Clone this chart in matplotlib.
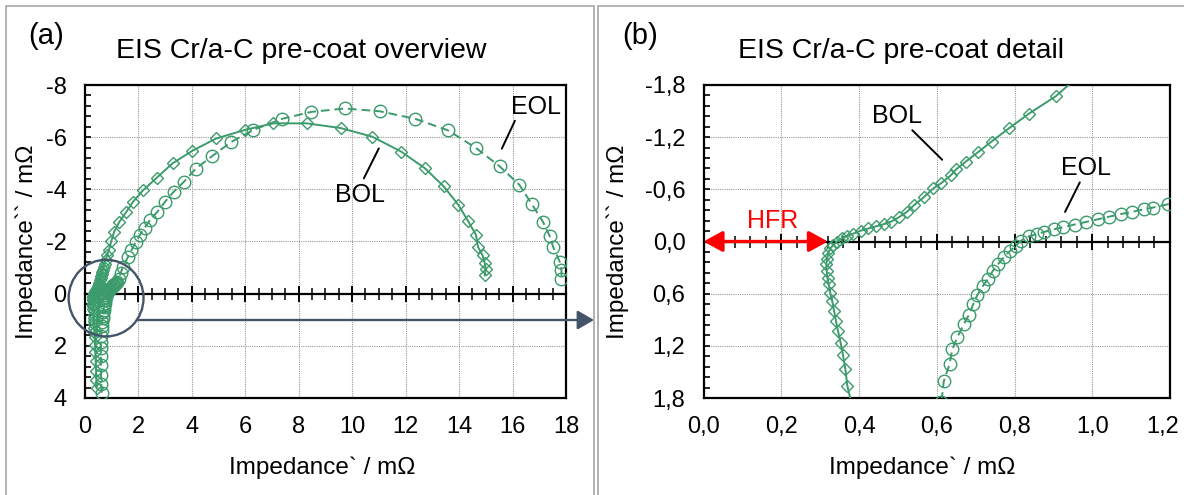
# EIS Nyquist plots of the Cr/a-C pre-coat, BOL vs EOL (overview + detail)

import matplotlib
matplotlib.use('Agg')
import matplotlib.pyplot as plt
from matplotlib.ticker import MultipleLocator, FuncFormatter
from matplotlib.patches import Ellipse, FancyArrowPatch
from matplotlib.transforms import ScaledTranslation

plt.rcParams['font.family'] = ['Liberation Sans', 'DejaVu Sans']

# impedance values in mOhm, imaginary part as plotted (inductive > 0)
bol_re = [0.45, 0.44, 0.425, 0.41, 0.395, 0.385,
          0.370, 0.365, 0.359, 0.353, 0.346, 0.341, 0.336, 0.331, 0.326, 0.322,
          0.319, 0.317, 0.316, 0.318, 0.321, 0.326, 0.334, 0.344, 0.356, 0.370,
          0.385, 0.405, 0.424, 0.444, 0.464, 0.483, 0.503, 0.523, 0.542, 0.567,
          0.591, 0.611, 0.636, 0.650, 0.675, 0.707, 0.741, 0.785, 0.837, 0.906,
          0.99, 1.10, 1.30, 1.56, 1.81, 2.19, 2.70, 3.29, 4.03, 4.92, 6.00, 7.06,
          8.30, 9.57, 10.75, 11.83, 12.72, 13.43, 13.97, 14.34, 14.63, 14.71,
          14.88, 14.96, 15.0, 14.96]
bol_im = [3.60, 3.30, 2.95, 2.60, 2.25, 1.95,
          1.66, 1.47, 1.31, 1.17, 1.03, 0.92, 0.80, 0.68, 0.59, 0.49,
          0.42, 0.34, 0.26, 0.20, 0.13, 0.08, 0.04, 0.00, -0.035, -0.065,
          -0.09, -0.125, -0.15, -0.175, -0.20, -0.23, -0.28, -0.34, -0.42, -0.51,
          -0.61, -0.67, -0.76, -0.83, -0.92, -1.03, -1.15, -1.30, -1.47, -1.67,
          -2.00, -2.37, -2.76, -3.14, -3.53, -3.97, -4.45, -5.00, -5.48, -5.95, -6.28, -6.53,
          -6.53, -6.35, -6.02, -5.45, -4.81, -4.11, -3.41, -2.78, -2.26, -1.79,
          -1.47, -1.17, -0.96, -0.70]

eol_re = [0.63, 0.62, 0.61, 0.605, 0.605, 0.607, 0.612,
          0.618, 0.633, 0.640, 0.653, 0.670, 0.683, 0.694, 0.704, 0.719, 0.732,
          0.744, 0.758, 0.773, 0.788, 0.803, 0.817, 0.837, 0.857, 0.876, 0.901,
          0.925, 0.955, 0.984, 1.014, 1.043, 1.073, 1.102, 1.132, 1.156, 1.196,
          1.27, 1.35, 1.43, 1.62, 1.75, 1.91, 2.06, 2.25, 2.44, 2.72, 3.01, 3.33,
          3.71, 4.15, 4.76, 5.47, 6.31, 7.37, 8.48, 9.73, 11.05, 12.37, 13.59,
          14.63, 15.52, 16.25, 16.73, 17.14, 17.39, 17.52, 17.77, 17.83, 17.83]
eol_im = [3.80, 3.45, 3.10, 2.75, 2.40, 2.10, 1.85,
          1.61, 1.41, 1.24, 1.10, 0.95, 0.84, 0.72, 0.62, 0.51, 0.43,
          0.34, 0.26, 0.18, 0.11, 0.05, -0.01, -0.06, -0.085, -0.11, -0.14,
          -0.165, -0.195, -0.225, -0.255, -0.285, -0.315, -0.34, -0.37, -0.39, -0.43,
          -0.58, -0.80, -1.03, -1.41, -1.67, -1.99, -2.24, -2.53, -2.82, -3.14, -3.53, -3.91,
          -4.29, -4.79, -5.27, -5.81, -6.28, -6.70, -6.97, -7.10, -6.99, -6.70, -6.26,
          -5.59, -4.88, -4.18, -3.42, -2.75, -2.21, -1.79, -1.21, -0.89, -0.57]

hfr = 0.32

green = '#3b9b6b'
slate = '#44546a'
W, H = 1184, 495


def px_box(x0, y0, x1, y1):
    return [x0 / W, 1 - y1 / H, (x1 - x0) / W, (y1 - y0) / H]


def int_fmt(v, pos):
    return f"{round(v) + 0.0:g}"


def comma_fmt(v, pos):
    return f"{round(v, 1) + 0.0:.1f}".replace('.', ',')


def style_axes(ax, xlim, ylim, xmaj, xmin, ymaj, ymin, fmt):
    ax.set_xlim(*xlim)
    ax.set_ylim(*ylim)
    ax.xaxis.set_major_locator(MultipleLocator(xmaj))
    ax.yaxis.set_major_locator(MultipleLocator(ymaj))
    ax.yaxis.set_minor_locator(MultipleLocator(ymin))
    ax.xaxis.set_major_formatter(FuncFormatter(fmt))
    ax.yaxis.set_major_formatter(FuncFormatter(fmt))
    ax.grid(True, which='major', color='#999999', lw=0.8, ls=(0, (1, 1)))
    ax.set_axisbelow(True)
    for s in ax.spines.values():
        s.set_linewidth(1.6)
    ax.tick_params(axis='x', which='both', length=0, pad=13, labelsize=17)
    ax.tick_params(axis='y', which='both', direction='in', length=4.5,
                   width=1.2, pad=13, labelsize=17)
    # axis line through zero with crossing ticks
    sec = ax.secondary_xaxis(0, transform=ax.transData)
    sec.set_zorder(1)
    sec.xaxis.set_major_locator(MultipleLocator(xmaj))
    sec.xaxis.set_minor_locator(MultipleLocator(xmin))
    sec.tick_params(which='major', direction='inout', length=11, width=1.4,
                    labelbottom=False)
    sec.tick_params(which='minor', direction='inout', length=8, width=1.1)
    sec.spines['bottom'].set_linewidth(1.6)


fig = plt.figure(figsize=(W / 100, H / 100), dpi=100)

ax_a = fig.add_axes(px_box(84.7, 85, 566, 398))
ax_b = fig.add_axes(px_box(703.5, 85, 1170, 398))

style_axes(ax_a, (0, 18), (4, -8), 2, 0.5, 2, 0.4, int_fmt)
style_axes(ax_b, (0, 1.2), (1.8, -1.8), 0.2, 0.04, 0.6, 0.12, comma_fmt)

for ax in (ax_a, ax_b):
    ax.plot(bol_re, bol_im, color=green, lw=1.4, marker='D', ms=6,
            mfc='none', mec=green, mew=1.0, zorder=3)
    ax.plot(eol_re, eol_im, color=green, lw=1.4, ls=(0, (4.5, 2.5)), marker='o',
            ms=9, mfc='none', mec=green, mew=1.0, zorder=3)

line_kw = dict(arrowstyle='-', color='k', lw=1.4, shrinkA=0, shrinkB=0)

# panel (a) annotations
ax_a.text(16.87, -7.16, 'EOL', fontsize=18, ha='center', va='center')
ax_a.annotate('', xy=(15.60, -5.56), xytext=(16.09, -6.63), arrowprops=line_kw)
ax_a.text(10.29, -3.77, 'BOL', fontsize=18, ha='center', va='center')
ax_a.annotate('', xy=(10.44, -4.42), xytext=(11.0, -5.57), arrowprops=line_kw)
ax_a.add_patch(Ellipse((0.80, 0.17), 2.8, 2.94, fill=False, ec=slate, lw=1.7,
                       clip_on=False, zorder=5))

# panel (b) annotations
ax_b.text(0.498, -1.44, 'BOL', fontsize=18, ha='center', va='center')
ax_b.annotate('', xy=(0.614, -0.94), xytext=(0.537, -1.28), arrowprops=line_kw)
ax_b.text(0.984, -0.84, 'EOL', fontsize=18, ha='center', va='center')
ax_b.annotate('', xy=(0.930, -0.34), xytext=(0.968, -0.68), arrowprops=line_kw)
ax_b.text(0.179, -0.24, 'HFR', fontsize=18, color='red', ha='center', va='center')
ax_b.annotate('', xy=(0.0, 0.0), xytext=(hfr, 0.0),
              arrowprops=dict(arrowstyle='<|-|>,head_length=11.5,head_width=6.3',
                              mutation_scale=1, color='red', lw=2.4,
                              shrinkA=0, shrinkB=0), zorder=4)

# zoom arrow from the circle to the detail panel
fig.add_artist(FancyArrowPatch((137 / W, 1 - 320 / H), (594 / W, 1 - 320 / H),
                               transform=fig.transFigure,
                               arrowstyle='-|>,head_length=10,head_width=5.8',
                               mutation_scale=1, color=slate, lw=1.7,
                               shrinkA=0, shrinkB=0))

# panel frames
for x0, x1 in [(5.5, 593.5), (598, 1200)]:
    fig.add_artist(plt.Rectangle((x0 / W, -0.1), (x1 - x0) / W, 1.1 - 6.5 / H,
                                 transform=fig.transFigure, fill=False,
                                 ec='#a6a6a6', lw=1.2))

# titles and labels
fig.text(46 / W, 1 - 44 / H, '(a)', fontsize=21, ha='center', va='baseline')
fig.text(301 / W, 1 - 57.5 / H, 'EIS Cr/a-C pre-coat overview', fontsize=20.5,
         ha='center', va='baseline')
fig.text(640 / W, 1 - 44 / H, '(b)', fontsize=21, ha='center', va='baseline')
fig.text(901 / W, 1 - 57.5 / H, 'EIS Cr/a-C pre-coat detail', fontsize=20.5,
         ha='center', va='baseline')

fig.text(322 / W, 1 - 474 / H, 'Impedance` / mΩ', fontsize=17.5, ha='center',
         va='baseline')
fig.text(922 / W, 1 - 474 / H, 'Impedance` / mΩ', fontsize=17.5, ha='center',
         va='baseline')
fig.text(27 / W, 1 - 242 / H, 'Impedance`` / mΩ', fontsize=17.5, rotation=90,
         ha='center', va='center')
fig.text(618 / W, 1 - 242 / H, 'Impedance`` / mΩ', fontsize=17.5, rotation=90,
         ha='center', va='center')

# keep the last detail tick label inside the canvas
fig.canvas.draw()
for lab in ax_b.get_xticklabels():
    if lab.get_text() == '1,2':
        lab.set_transform(lab.get_transform()
                          + ScaledTranslation(-5 / 72, 0, fig.dpi_scale_trans))

fig.savefig('out.png', dpi=100)
